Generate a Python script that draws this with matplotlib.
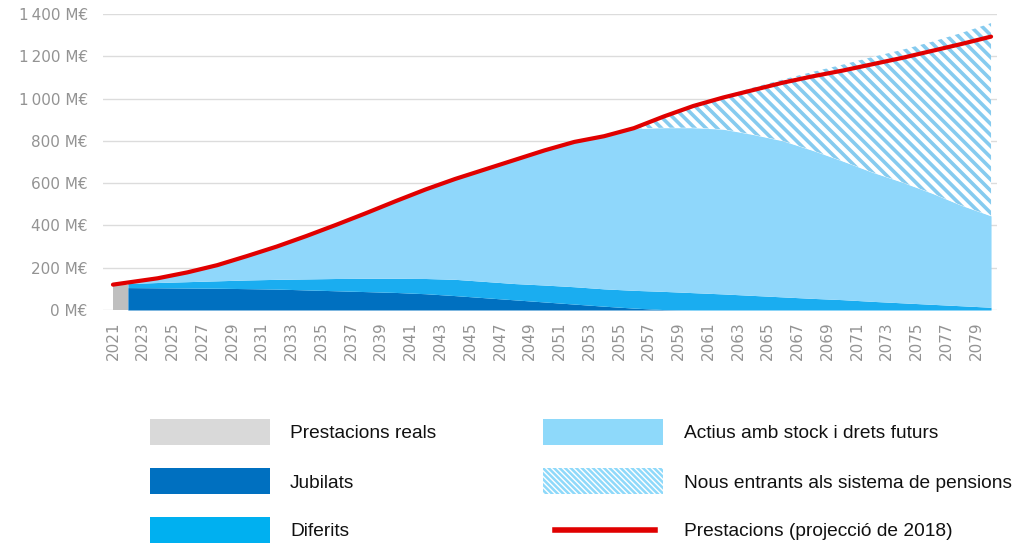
import matplotlib
matplotlib.use('Agg')
import matplotlib.pyplot as plt
import numpy as np
from matplotlib.patches import Rectangle
from matplotlib.lines import Line2D

# --- data (M€) ---
year_real = [2021]
prestacions_reals = [120]

years = [2022, 2024, 2026, 2028, 2030, 2032, 2034, 2036, 2038, 2040,
         2042, 2044, 2046, 2048, 2050, 2052, 2054, 2056, 2058, 2060,
         2062, 2064, 2066, 2068, 2070, 2072, 2074, 2076, 2078, 2080]
jubilats = [106, 105, 104, 103, 101, 99, 95, 91, 87, 83,
            77, 68, 58, 48, 38, 28, 18, 9, 2, 0,
            0, 0, 0, 0, 0, 0, 0, 0, 0, 0]
diferits = [19, 25, 30, 35, 41, 46, 52, 58, 63, 67,
            72, 77, 77, 77, 80, 82, 82, 84, 86, 82,
            76, 69, 62, 55, 49, 41, 34, 27, 20, 13]
actius = [3, 18, 42, 72, 111, 153, 201, 251, 305, 362,
          418, 472, 527, 582, 634, 682, 720, 765, 774, 780,
          779, 761, 738, 700, 656, 611, 571, 526, 475, 432]
nous_entrants = [0, 0, 0, 0, 0, 0, 0, 0, 0, 0,
                 0, 0, 0, 0, 0, 0, 0, 2, 56, 105,
                 155, 222, 290, 371, 455, 544, 625, 715, 815, 912]

years_proj = [2021] + years
projeccio_2018 = [120, 130, 150, 178, 212, 255, 300, 350, 403, 458, 515,
                  570, 620, 665, 710, 755, 795, 822, 860, 915, 965,
                  1005, 1040, 1075, 1105, 1132, 1162, 1192, 1225, 1258, 1293]

labels = ['Prestacions reals', 'Jubilats', 'Diferits',
          'Actius amb stock i drets futurs', 'Nous entrants als sistema de pensions',
          'Prestacions (projecció de 2018)']

c_gray = '#BFBFBF'
c_jub = '#0070C0'
c_dif = '#1AADF0'
c_act = '#8FD7FB'
c_hatch = '#86CBEF'
c_red = '#E00000'

plt.rcParams['hatch.linewidth'] = 2.6

fig = plt.figure(figsize=(10.19, 5.47), dpi=100)
ax = fig.add_axes([103 / 1019, 1 - 310 / 547, 894 / 1019, 296 / 547])

y = np.array(years)
j = np.array(jubilats)
d = j + np.array(diferits)
a = d + np.array(actius)
n = a + np.array(nous_entrants)

ax.bar(year_real, prestacions_reals, width=1, align='edge', color=c_gray, zorder=2)
ax.fill_between(y, 0, j, color=c_jub, linewidth=0, zorder=2)
ax.fill_between(y, j, d, color=c_dif, linewidth=0, zorder=2)
ax.fill_between(y, d, a, color=c_act, linewidth=0, zorder=2)
ax.fill_between(y, a, n, facecolor='white', edgecolor=c_hatch, hatch='\\\\\\',
                linewidth=0, zorder=2)
ax.plot(years_proj, projeccio_2018, color=c_red, lw=3, zorder=3,
        solid_capstyle='round', solid_joinstyle='round')

ax.set_xlim(2020.33, 2080.4)
ax.set_ylim(0, 1400)
ax.set_yticks(range(0, 1401, 200))
ax.set_yticklabels([('%d' % v if v < 1000 else '%d\u2009%03d' % (v // 1000, v % 1000)) + ' M€'
                    for v in range(0, 1401, 200)])
ax.set_xticks(range(2021, 2080, 2))
ax.set_xticklabels([str(v) for v in range(2021, 2080, 2)], rotation=90)
ax.tick_params(axis='both', length=0, colors='#939393', labelsize=11)
ax.tick_params(axis='y', pad=11)
ax.tick_params(axis='x', pad=8)
ax.grid(axis='y', color='#DCDCDC', lw=1, zorder=0)
for s in ax.spines.values():
    s.set_visible(False)
ax.set_axisbelow(True)

# --- legend drawn by hand ---
W, H = 1019.0, 547.0
def box(x0, yc, **kw):
    r = Rectangle((x0 / W, 1 - (yc + 13) / H), 120 / W, 26 / H,
                  transform=fig.transFigure, **kw)
    fig.add_artist(r)

rows = [432, 481, 530]
box(150, rows[0], facecolor='#D9D9D9', lw=0)
box(150, rows[1], facecolor=c_jub, lw=0)
box(150, rows[2], facecolor='#00B0F0', lw=0)
box(543, rows[0], facecolor='#8ED9FA', lw=0)
plt.rcParams['hatch.linewidth'] = 1.0
box(543, rows[1], facecolor='#8ED9FA', edgecolor='white', hatch='\\\\\\\\\\\\', lw=0)
fig.add_artist(Line2D([555 / W, 655 / W], [1 - rows[2] / H] * 2, color=c_red, lw=4,
                      transform=fig.transFigure))

for i, lab in enumerate(labels):
    xt = 290 if i < 3 else 684
    fig.text(xt / W, 1 - (rows[i % 3] + 2) / H, lab, va='center', ha='left',
             fontsize=13.8, family='Liberation Sans', color='#111111')

fig.savefig('out.png', dpi=100)
